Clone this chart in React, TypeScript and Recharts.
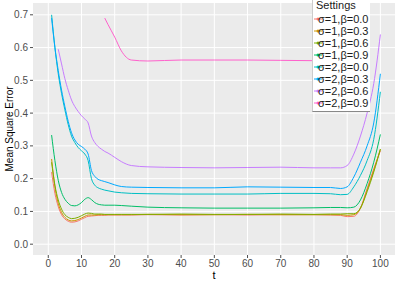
import { LineChart, Line, XAxis, YAxis, CartesianGrid } from 'recharts'

const T = [1, 2, 3, 4, 5, 6, 7, 8, 9, 10, 11, 12, 13, 14, 15, 16, 17, 18, 20, 22, 25, 30, 40, 50, 60, 70, 80, 85, 88, 90, 92, 94, 96, 98, 100]

const s1b00 = [0.22, 0.155, 0.115, 0.09, 0.077, 0.07, 0.067, 0.068, 0.071, 0.076, 0.081, 0.085, 0.086, 0.087, 0.088, 0.088, 0.088, 0.089, 0.089, 0.089, 0.089, 0.09, 0.089, 0.09, 0.089, 0.09, 0.09, 0.089, 0.088, 0.084, 0.085, 0.11, 0.17, 0.23, 0.285]
const s1b03 = [0.26, 0.175, 0.125, 0.097, 0.082, 0.074, 0.071, 0.072, 0.075, 0.08, 0.085, 0.089, 0.089, 0.089, 0.09, 0.09, 0.09, 0.09, 0.09, 0.09, 0.09, 0.091, 0.09, 0.09, 0.091, 0.09, 0.09, 0.09, 0.09, 0.088, 0.09, 0.11, 0.165, 0.225, 0.29]
const s1b06 = [0.25, 0.18, 0.135, 0.107, 0.09, 0.082, 0.078, 0.079, 0.082, 0.087, 0.092, 0.095, 0.094, 0.092, 0.092, 0.092, 0.091, 0.091, 0.091, 0.091, 0.091, 0.091, 0.092, 0.091, 0.091, 0.092, 0.091, 0.092, 0.092, 0.093, 0.093, 0.11, 0.16, 0.22, 0.29]
const s1b09 = [0.333, 0.255, 0.195, 0.158, 0.137, 0.125, 0.118, 0.117, 0.12, 0.127, 0.137, 0.142, 0.136, 0.127, 0.122, 0.12, 0.119, 0.119, 0.119, 0.118, 0.116, 0.113, 0.111, 0.11, 0.11, 0.11, 0.111, 0.112, 0.112, 0.111, 0.113, 0.135, 0.185, 0.25, 0.335]
const s2b00 = [0.7, 0.6, 0.52, 0.46, 0.41, 0.365, 0.33, 0.31, 0.295, 0.285, 0.275, 0.255, 0.2, 0.18, 0.172, 0.168, 0.165, 0.163, 0.159, 0.157, 0.155, 0.154, 0.153, 0.153, 0.153, 0.155, 0.155, 0.154, 0.151, 0.152, 0.175, 0.21, 0.255, 0.32, 0.465]
const s2b03 = [0.69, 0.6, 0.53, 0.47, 0.42, 0.375, 0.34, 0.318, 0.305, 0.298, 0.29, 0.275, 0.225, 0.207, 0.198, 0.194, 0.191, 0.188, 0.181, 0.176, 0.174, 0.173, 0.172, 0.172, 0.175, 0.174, 0.173, 0.173, 0.17, 0.175, 0.205, 0.25, 0.3, 0.37, 0.52]
const s2b06 = [null, null, 0.595, 0.55, 0.505, 0.47, 0.44, 0.42, 0.405, 0.392, 0.382, 0.37, 0.33, 0.31, 0.298, 0.29, 0.283, 0.278, 0.265, 0.252, 0.24, 0.236, 0.234, 0.233, 0.234, 0.235, 0.233, 0.233, 0.233, 0.24, 0.275, 0.33, 0.4, 0.49, 0.64]
const s2b09 = [null, null, null, null, null, null, null, null, null, null, null, null, null, null, null, null, 0.69, 0.67, 0.632, 0.59, 0.562, 0.559, 0.562, 0.562, 0.562, 0.561, 0.56, 0.56, 0.56, 0.562, null, null, null, null, null]

const X_TICKS = [0, 10, 20, 30, 40, 50, 60, 70, 80, 90, 100]
const Y_TICKS = [0, 0.1, 0.2, 0.3, 0.4, 0.5, 0.6, 0.7]

const SERIES = [
  { key: 's1b00', name: 'σ=1,β=0.0', color: '#F8766D', values: s1b00 },
  { key: 's1b03', name: 'σ=1,β=0.3', color: '#CD9600', values: s1b03 },
  { key: 's1b06', name: 'σ=1,β=0.6', color: '#7CAE00', values: s1b06 },
  { key: 's1b09', name: 'σ=1,β=0.9', color: '#00BE67', values: s1b09 },
  { key: 's2b00', name: 'σ=2,β=0.0', color: '#00BFC4', values: s2b00 },
  { key: 's2b03', name: 'σ=2,β=0.3', color: '#00A9FF', values: s2b03 },
  { key: 's2b06', name: 'σ=2,β=0.6', color: '#C77CFF', values: s2b06 },
  { key: 's2b09', name: 'σ=2,β=0.9', color: '#FF61CC', values: s2b09 },
]

const data = T.map((t, i) => {
  const row: Record<string, number | null> = { t }
  SERIES.forEach(s => { row[s.key] = s.values[i] })
  return row
})

const font = 'Arial, "Liberation Sans", sans-serif'

// legend box sits over the top-right of the panel, like in ggplot
function SettingsLegend() {
  return (
    <div style={{ position: 'absolute', left: 312, top: 0, width: 58, height: 112, background: '#fff', borderLeft: '1px solid #ccc', borderBottom: '1px solid #888', boxSizing: 'border-box', fontFamily: font, color: '#1a1a1a' }}>
      <div style={{ fontSize: 11, lineHeight: '11px', paddingLeft: 3 }}>Settings</div>
      <div style={{ marginTop: 2 }}>
        {SERIES.map(s => (
          <div key={s.key} style={{ display: 'flex', alignItems: 'center', height: 12 }}>
            <svg width={8} height={6} style={{ marginLeft: 1, flex: 'none' }}>
              <line x1={0} y1={3} x2={8} y2={3} stroke={s.color} strokeWidth={1} />
              <circle cx={4} cy={3} r={1.5} fill={s.color} />
            </svg>
            <span style={{ fontSize: 11, lineHeight: '12px', marginLeft: -4, whiteSpace: 'nowrap' }}>{s.name}</span>
          </div>
        ))}
      </div>
    </div>
  )
}

export default function App() {
  return (
    <div style={{ position: 'absolute', left: 0, top: 0, width: 399, height: 284, background: '#fff' }}>
      <LineChart width={399} height={284} data={data} margin={{ top: 3, right: 4, left: 0, bottom: 0 }}>
        <CartesianGrid fill="#EBEBEB" stroke="#fff" strokeWidth={1} horizontalValues={Y_TICKS} verticalValues={X_TICKS} />
        <XAxis
          dataKey="t"
          type="number"
          domain={[-4.6, 104.4]}
          ticks={X_TICKS}
          allowDataOverflow
          height={29}
          axisLine={false}
          tickSize={3}
          tickMargin={2}
          tickLine={{ stroke: '#4d4d4d' }}
          tick={{ fill: '#4d4d4d', fontSize: 10, fontFamily: font }}
          label={{ value: 't', position: 'center', dy: 6, fill: '#000', fontSize: 11, fontFamily: font }}
        />
        <YAxis
          type="number"
          domain={[-0.033, 0.736]}
          ticks={Y_TICKS}
          allowDataOverflow
          width={33}
          axisLine={false}
          tickSize={3}
          tickMargin={2}
          tickLine={{ stroke: '#4d4d4d' }}
          tickFormatter={(v: number) => v.toFixed(1)}
          tick={{ fill: '#4d4d4d', fontSize: 10, fontFamily: font }}
          label={{ value: 'Mean Square Error', angle: -90, position: 'center', dx: -7, fill: '#000', fontSize: 10, fontFamily: font }}
        />
        {SERIES.map(s => (
          <Line
            key={s.key}
            dataKey={s.key}
            name={s.name}
            type="monotone"
            stroke={s.color}
            strokeWidth={1}
            dot={false}
            isAnimationActive={false}
          />
        ))}
      </LineChart>
      <SettingsLegend />
    </div>
  )
}
